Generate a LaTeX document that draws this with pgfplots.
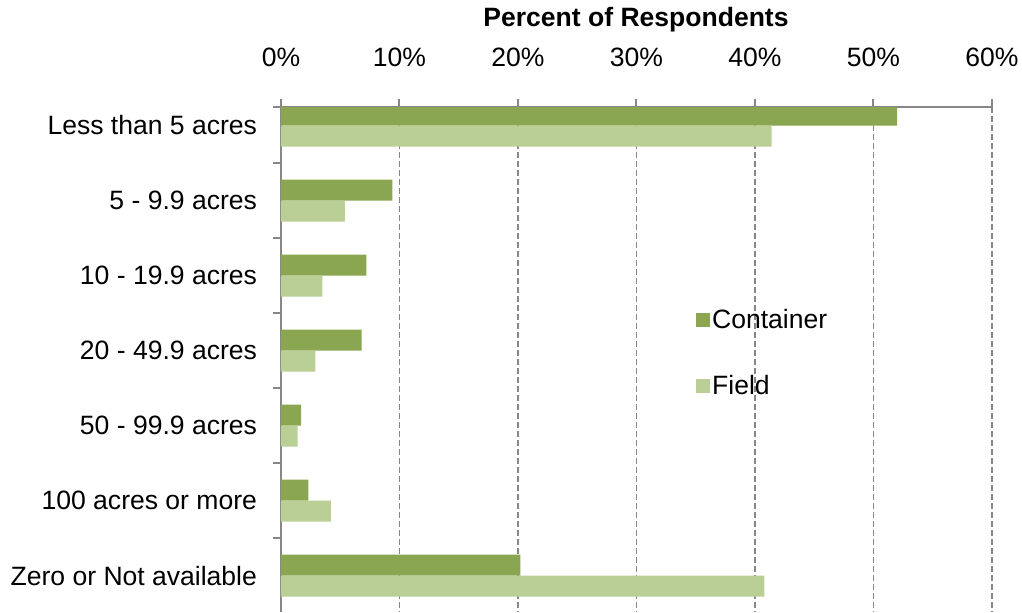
\documentclass[border=0pt]{standalone}
\usepackage{fontspec}
\setmainfont{Liberation Sans}
\usepackage{pgfplots}
\pgfplotsset{compat=1.18}
\definecolor{cont}{HTML}{8AA650}
\definecolor{fld}{HTML}{B9CF96}
\definecolor{gridc}{HTML}{878787}
\newcommand{\lblfont}{\fontsize{19.9}{23.5}\selectfont}
\begin{document}
\begin{tikzpicture}
\begin{axis}[
 at={(0,0)}, anchor=north west,
 x=8.8875pt, y=56.25pt, y dir=reverse,
 xmin=0, xmax=60, ymin=-0.2467, ymax=6.49,
 axis x line*=top, axis y line*=left,
 axis line style={gridc, line width=1.5pt, -},
 xtick={0,10,...,60}, xticklabels={0\%,10\%,20\%,30\%,40\%,50\%,60\%},
 ytick={0,...,6},
 yticklabels={Less than 5 acres,5 - 9.9 acres,10 - 19.9 acres,20 - 49.9 acres,50 - 99.9 acres,100 acres or more,Zero or Not available},
 minor ytick={-0.2467,0.5,1.5,2.5,3.5,4.5,5.5},
 tick align=outside,
 major tick length=6pt, minor tick length=6pt,
 major y tick style={draw=none},
 tick style={gridc, line width=1.5pt},
 xmajorgrids, major grid style={gridc, line width=1.4pt, dash pattern=on 4.5pt off 2.25pt},
 every tick label/.append style={font=\lblfont},
 xticklabel style={yshift=20.5pt},
 yticklabel style={xshift=-8.5pt},
 legend style={at={(0.577,0.61)}, anchor=north west, draw=none, fill=none, font=\lblfont, row sep=29.5pt},
 legend cell align=left,
]
\addplot[xbar, bar width=15.75pt, bar shift=7.875pt, fill=cont, draw=none,
  legend image code/.code={\fill[cont] (0pt,-5.25pt) rectangle (10.5pt,5.25pt);}]
  coordinates {(52.0,0) (9.4,1) (7.2,2) (6.8,3) (1.7,4) (2.3,5) (20.2,6)};
\addlegendentry{Container}
\addplot[xbar, bar width=15.75pt, bar shift=-7.875pt, fill=fld, draw=none,
  legend image code/.code={\fill[fld] (0pt,-5.25pt) rectangle (10.5pt,5.25pt);}]
  coordinates {(41.4,0) (5.4,1) (3.5,2) (2.9,3) (1.4,4) (4.2,5) (40.8,6)};
\addlegendentry{Field}
\end{axis}
\node[font=\bfseries\lblfont] at (266.25pt,65.5pt) {Percent of Respondents};
\pgfresetboundingbox
\path[use as bounding box] (-210.75pt,80.25pt) rectangle (555.75pt,-378.75pt);
\end{tikzpicture}
\end{document}
